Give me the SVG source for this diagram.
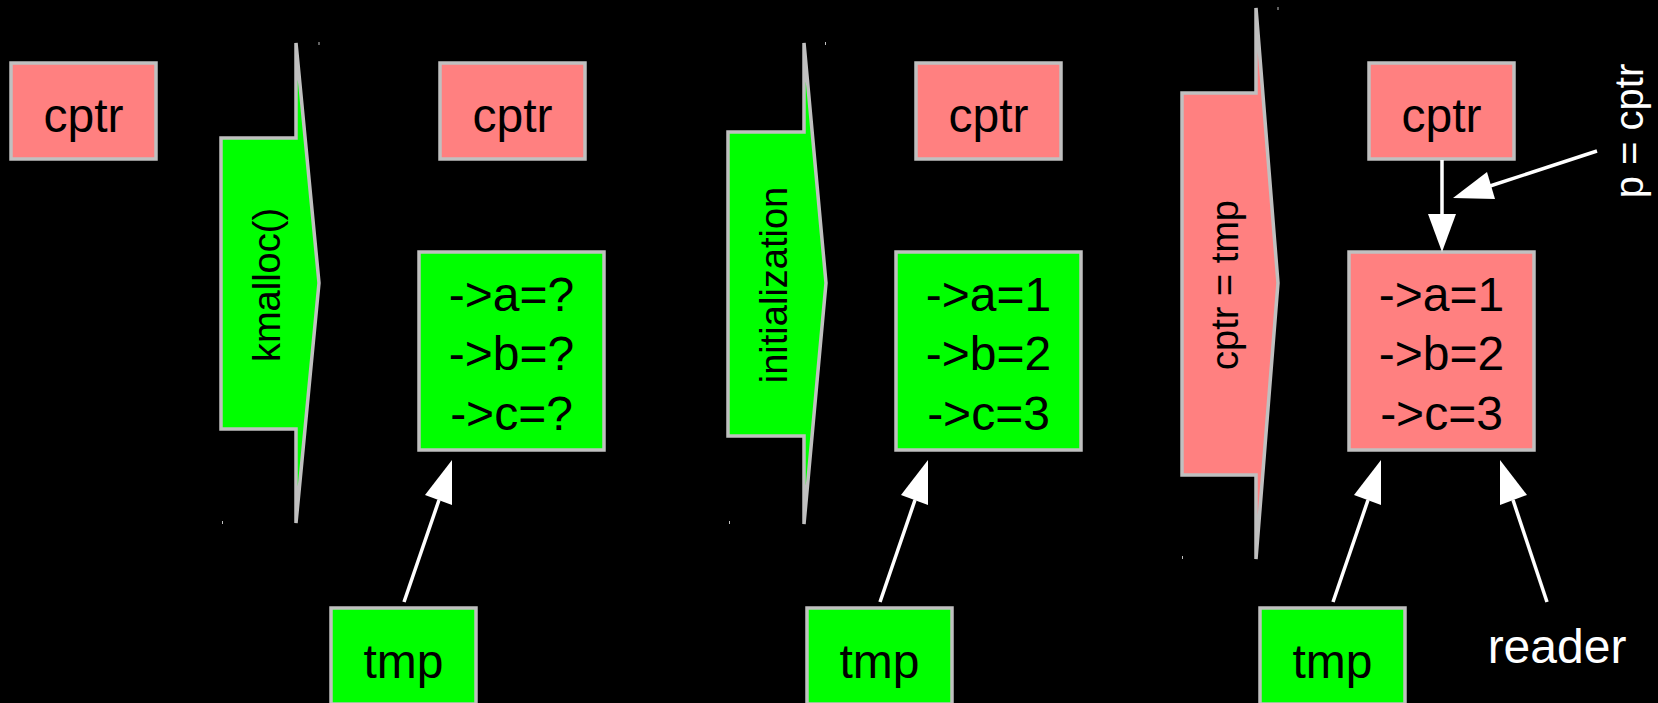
<svg xmlns="http://www.w3.org/2000/svg" width="1658" height="703" viewBox="0 0 1658 703">
<style>
.bg{fill:#000}
.pink{fill:#ff8080;stroke:#c0c0c0;stroke-width:3.5}
.green{fill:#00ff00;stroke:#c0c0c0;stroke-width:3.5}
.t{font-family:"Liberation Sans",Arial,sans-serif;font-size:48px;fill:#000;text-anchor:middle}
.rt{font-family:"Liberation Sans",Arial,sans-serif;font-size:38px;fill:#000;text-anchor:middle}
.w{fill:#fff}
.ln{stroke:#fff;stroke-width:3.5;fill:none}
.hd{fill:#fff}
.mk{fill:#c0c0c0}
</style>
<rect class="bg" x="0" y="0" width="1658" height="703"/>

<g id="cptr1"><rect class="pink" x="11" y="63" width="145" height="96"/><text class="t" x="83.5" y="132">cptr</text></g>

<g id="step-kmalloc">
<polygon class="green" points="296,43 319,283 296,523 296,429 221,429 221,138 296,138"/>
<text class="rt" transform="translate(280,285) rotate(-90)">kmalloc()</text>
<rect class="mk" x="318.5" y="42" width="1" height="3"/><rect class="mk" x="222" y="521" width="1" height="3"/>
</g>

<g id="cptr2"><rect class="pink" x="440" y="63" width="145" height="96"/><text class="t" x="512.5" y="132">cptr</text></g>
<g id="obj2"><rect class="green" x="419" y="252" width="185" height="198"/>
<text class="t" x="511.5" y="311">-&gt;a=?</text><text class="t" x="511.5" y="370">-&gt;b=?</text><text class="t" x="511.5" y="430">-&gt;c=?</text></g>
<g id="tmp2"><rect class="green" x="331" y="608" width="145" height="96"/><text class="t" x="403.5" y="678">tmp</text></g>

<g id="step-init">
<polygon class="green" points="804,43 826,283 804,524 804,436 728,436 728,132 804,132"/>
<text class="rt" transform="translate(787,285) rotate(-90)">initialization</text>
<rect class="mk" x="825" y="42" width="1" height="3"/><rect class="mk" x="729" y="521" width="1" height="3"/>
</g>

<g id="cptr3"><rect class="pink" x="916" y="63" width="145" height="96"/><text class="t" x="988.5" y="132">cptr</text></g>
<g id="obj3"><rect class="green" x="896" y="252" width="185" height="198"/>
<text class="t" x="988.5" y="311">-&gt;a=1</text><text class="t" x="988.5" y="370">-&gt;b=2</text><text class="t" x="988.5" y="430">-&gt;c=3</text></g>
<g id="tmp3"><rect class="green" x="807" y="608" width="145" height="96"/><text class="t" x="879.5" y="678">tmp</text></g>

<g id="step-assign">
<polygon class="pink" points="1256,8 1278,283 1256,559 1256,475 1182,475 1182,93 1256,93"/>
<text class="rt" transform="translate(1238,285) rotate(-90)">cptr = tmp</text>
<rect class="mk" x="1277.5" y="7" width="1" height="3"/><rect class="mk" x="1182" y="556" width="1" height="3"/>
</g>

<g id="cptr4"><rect class="pink" x="1369" y="63" width="145" height="96"/><text class="t" x="1441.5" y="132">cptr</text></g>
<g id="obj4"><rect class="pink" x="1349" y="252" width="185" height="198"/>
<text class="t" x="1441.5" y="311">-&gt;a=1</text><text class="t" x="1441.5" y="370">-&gt;b=2</text><text class="t" x="1441.5" y="430">-&gt;c=3</text></g>
<g id="tmp4"><rect class="green" x="1260" y="608" width="145" height="96"/><text class="t" x="1332.5" y="678">tmp</text></g>

<g id="reader"><text class="t w" x="1557" y="663">reader</text></g>
<g id="pcptr"><text class="rt w" style="font-size:40px" transform="translate(1643,131) rotate(-90)">p = cptr</text></g>

<g id="connectors">
<line class="ln" x1="404" y1="602" x2="439" y2="500"/><polygon class="hd" points="452,460 425,495 452,505"/>
<line class="ln" x1="880" y1="602" x2="915" y2="500"/><polygon class="hd" points="928,460 901,495 928,505"/>
<line class="ln" x1="1333" y1="602" x2="1368" y2="500"/><polygon class="hd" points="1381,460 1354,495 1381,505"/>
<line class="ln" x1="1547" y1="602" x2="1513" y2="500"/><polygon class="hd" points="1500,460 1527,495 1500,505"/>
<line class="ln" x1="1442" y1="160" x2="1442" y2="216"/><polygon class="hd" points="1442,252 1428,214 1456,214"/>
<line class="ln" x1="1597" y1="151" x2="1490" y2="186"/><polygon class="hd" points="1453,198 1495,199 1487,172"/>
</g>
</svg>
